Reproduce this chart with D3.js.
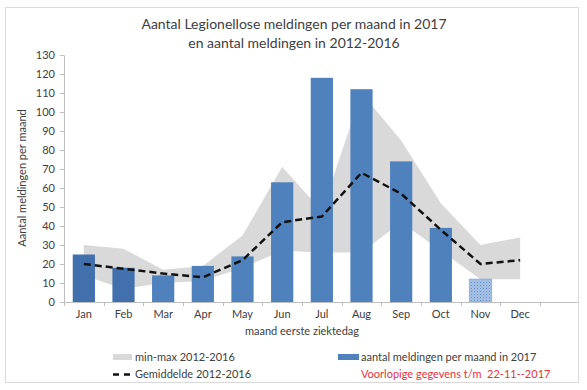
<!DOCTYPE html>
<html>
<head>
<meta charset="utf-8">
<script src="https://cdn.jsdelivr.net/npm/d3@7"></script>
<style>
  html, body { margin: 0; padding: 0; background: #fff; }
  svg { display: block; }
  text { font-family: Lato, "Open Sans", sans-serif; fill: #404040; white-space: pre; }
</style>
</head>
<body>
<svg id="chart" width="587" height="390"></svg>
<script>
const months = ["Jan","Feb","Mar","Apr","May","Jun","Jul","Aug","Sep","Oct","Nov","Dec"];
const cases2017 = [25, 18, 14, 19, 24, 63, 118, 112, 74, 39, 12, null];
const mean1216 = [20, 17.5, 15, 13, 22, 42, 45, 68, 57, 38, 20, 22];
const min1216 = [14, 7, 10, 11, 18, 27, 26, 26, 42, 27, 12, 12];
const max1216 = [30, 28, 17, 19, 35, 71, 48, 110, 85, 52, 30, 34];
const yTicks = [0, 10, 20, 30, 40, 50, 60, 70, 80, 90, 100, 110, 120, 130];
const darkMonths = ["Jan", "Feb"];
const provisionalMonths = ["Nov"];

const titleLines = ["Aantal Legionellose meldingen per maand in 2017", "en aantal meldingen in 2012-2016"];
const xTitle = "maand eerste ziektedag";
const yTitle = "Aantal meldingen per maand";
const legendItems = {
  area: "min-max 2012-2016",
  mean: "Gemiddelde 2012-2016",
  bars: "aantal meldingen per maand in 2017",
  note: "Voorlopige gegevens t/m  22-11--2017"
};

const svg = d3.select("#chart");
const plot = { left: 64, right: 540, top: 55, bottom: 302, axisEnd: 578 };

// frame
svg.append("rect").attr("x", 5.5).attr("y", 7.5).attr("width", 573).attr("height", 375)
  .attr("fill", "#fff").attr("stroke", "#D9D9D9").attr("stroke-width", 1);

const defs = svg.append("defs");
const pat = defs.append("pattern").attr("id", "dots").attr("patternUnits", "userSpaceOnUse")
  .attr("width", 3).attr("height", 3);
pat.append("rect").attr("width", 3).attr("height", 3).attr("fill", "#A8C3E6");
pat.append("rect").attr("x", 0).attr("y", 0).attr("width", 1).attr("height", 1).attr("fill", "#5F8BC6");
pat.append("rect").attr("x", 1.5).attr("y", 1.5).attr("width", 1).attr("height", 1).attr("fill", "#7FA3D4");

const x = d3.scaleBand().domain(months).range([plot.left, plot.right])
  .paddingInner(0.44).paddingOuter(0.22);
const y = d3.scaleLinear().domain([0, 130]).range([plot.bottom, plot.top]);
const cx = m => x(m) + x.bandwidth() / 2;

const rows = months.map((m, i) => ({ m, v: cases2017[i], mean: mean1216[i], lo: min1216[i], hi: max1216[i] }));

// min-max area
svg.append("path").datum(rows)
  .attr("fill", "#D9D9D9")
  .attr("d", d3.area().x(d => cx(d.m)).y0(d => y(d.lo)).y1(d => y(d.hi)));

// bars
svg.append("g").selectAll("rect").data(rows.filter(d => d.v != null)).join("rect")
  .attr("x", d => x(d.m)).attr("width", x.bandwidth())
  .attr("y", d => y(d.v)).attr("height", d => y(0) - y(d.v))
  .attr("fill", d => provisionalMonths.includes(d.m) ? "url(#dots)" : (darkMonths.includes(d.m) ? "#4170AD" : "#4F81BD"))
  .attr("stroke", d => provisionalMonths.includes(d.m) ? "#8FB0DC" : "none");

// mean line
svg.append("path").datum(rows)
  .attr("fill", "none").attr("stroke", "#111").attr("stroke-width", 2.5)
  .attr("stroke-dasharray", "7,4")
  .attr("d", d3.line().x(d => cx(d.m)).y(d => y(d.mean)));

// y axis
const yAxis = svg.append("g").attr("transform", `translate(${plot.left},0)`)
  .call(d3.axisLeft(y).tickValues(yTicks).tickSize(4).tickPadding(5));
yAxis.select(".domain").attr("stroke", "#BFBFBF");
yAxis.selectAll(".tick line").attr("stroke", "#BFBFBF");
yAxis.selectAll("text").style("font-size", "11px").attr("fill", "#404040");

// x axis
const xAxis = svg.append("g").attr("transform", `translate(0,${plot.bottom})`)
  .call(d3.axisBottom(x).tickSize(0).tickPadding(8));
xAxis.select(".domain").remove();
xAxis.selectAll("text").style("font-size", "11px").attr("fill", "#404040");
svg.append("line").attr("x1", plot.left).attr("x2", plot.axisEnd)
  .attr("y1", plot.bottom + 0.5).attr("y2", plot.bottom + 0.5).attr("stroke", "#BFBFBF");
const bounds = months.map(m => x(m) - x.step() * x.paddingInner() / 2).concat([plot.right]);
svg.append("g").selectAll("line").data(bounds).join("line")
  .attr("x1", d => Math.round(d) + 0.5).attr("x2", d => Math.round(d) + 0.5)
  .attr("y1", plot.bottom).attr("y2", plot.bottom + 4).attr("stroke", "#BFBFBF");

// titles
svg.append("g").selectAll("text").data(titleLines).join("text")
  .attr("x", 294).attr("y", (d, i) => 29 + i * 19)
  .attr("text-anchor", "middle").style("font-size", "14px").attr("fill", "#262626")
  .text(d => d);

svg.append("text").attr("x", 302).attr("y", 335).attr("text-anchor", "middle")
  .style("font-size", "11px").text(xTitle);

svg.append("text").attr("transform", "translate(26,178) rotate(-90)").attr("text-anchor", "middle")
  .style("font-size", "11px").text(yTitle);

// legend
const lg = svg.append("g");
lg.append("rect").attr("x", 113).attr("y", 354).attr("width", 19).attr("height", 6).attr("fill", "#D9D9D9");
lg.append("text").attr("x", 135).attr("y", 361).style("font-size", "11px").text(legendItems.area);
lg.append("line").attr("x1", 113).attr("x2", 131).attr("y1", 374.5).attr("y2", 374.5)
  .attr("stroke", "#111").attr("stroke-width", 2.5).attr("stroke-dasharray", "6,5");
lg.append("text").attr("x", 135).attr("y", 378).style("font-size", "11px").text(legendItems.mean);
lg.append("rect").attr("x", 338).attr("y", 354).attr("width", 21).attr("height", 6).attr("fill", "#4F81BD");
lg.append("text").attr("x", 361).attr("y", 361).style("font-size", "11px").text(legendItems.bars);
lg.append("text").attr("x", 361).attr("y", 378).style("font-size", "11px")
  .style("fill", "#E8323C").attr("xml:space", "preserve").text(legendItems.note);
</script>
</body>
</html>
